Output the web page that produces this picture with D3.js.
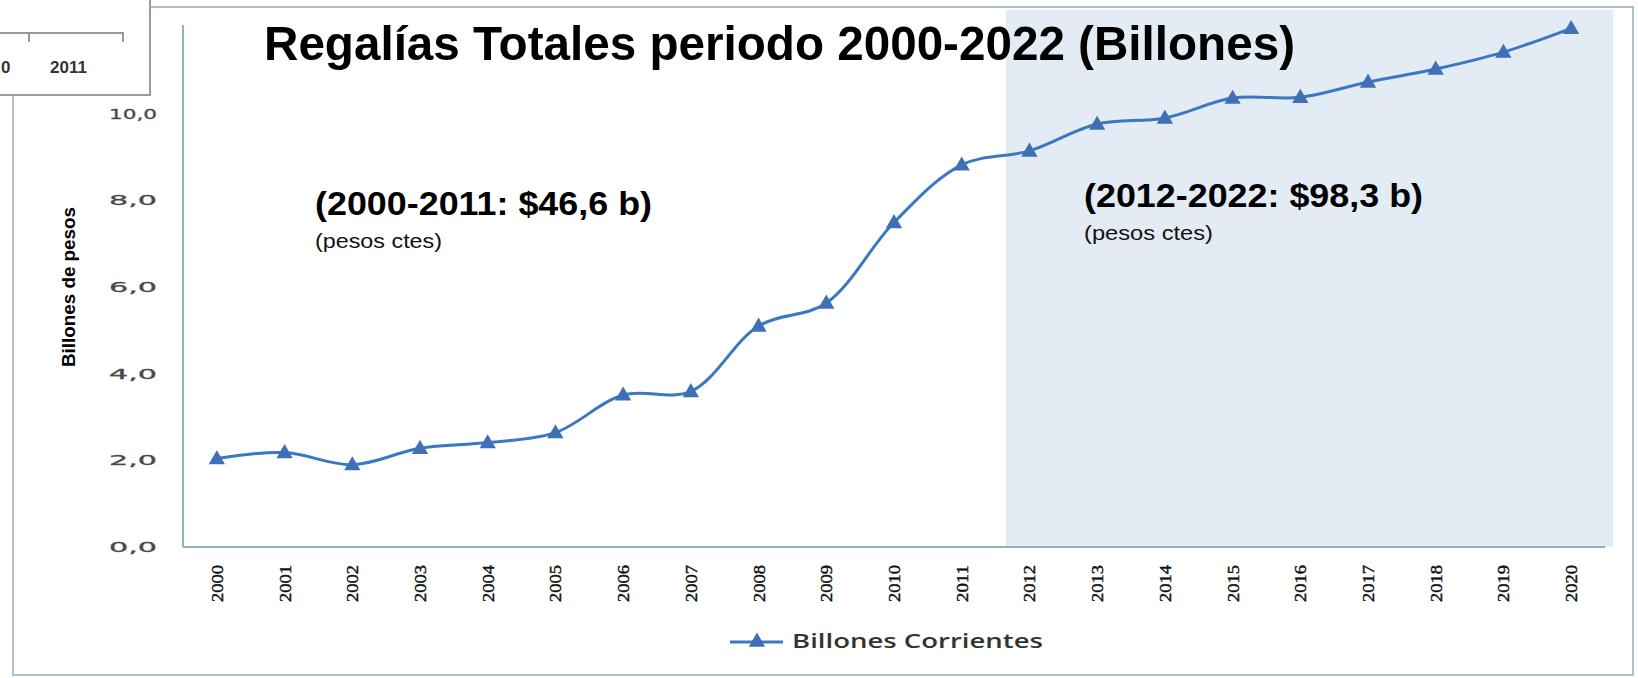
<!DOCTYPE html>
<html>
<head>
<meta charset="utf-8">
<script src="https://cdn.jsdelivr.net/npm/d3@7"></script>
<style>
  body { margin: 0; background: #fff; }
  svg { display: block; }
</style>
</head>
<body>
<script>
var svgWidth = 1638;
var svgHeight = 678;

// data
var years = ['2000','2001','2002','2003','2004','2005','2006','2007','2008','2009','2010',
             '2011','2012','2013','2014','2015','2016','2017','2018','2019','2020'];
var billones = [2.04, 2.18, 1.90, 2.28, 2.41, 2.64, 3.51, 3.59, 5.10, 5.63, 7.49,
                8.82, 9.14, 9.76, 9.90, 10.36, 10.38, 10.73, 11.03, 11.42, 11.97];
var yTicks = [0, 2, 4, 6, 8, 10];
var shadeFrom = '2012';
var titleText = 'Regalías Totales periodo 2000-2022 (Billones)';
var notes = [
  { big: '(2000-2011: $46,6 b)', small: '(pesos ctes)' },
  { big: '(2012-2022: $98,3 b)', small: '(pesos ctes)' }
];
var legendLabel = 'Billones Corrientes';

var plot = { left: 183, right: 1605, top: 27, bottom: 547 };

var svg = d3.select('body').append('svg')
  .attr('width', svgWidth)
  .attr('height', svgHeight);

// outer frame of the pasted chart
svg.append('rect')
  .attr('x', 13).attr('y', 7)
  .attr('width', 1620).attr('height', 668)
  .attr('fill', '#fff')
  .attr('stroke', '#a9c1cd')
  .attr('stroke-width', 2);

var x = d3.scaleBand().domain(years).range([plot.left, plot.right]);
var y = d3.scaleLinear().domain([0, 12]).range([plot.bottom, plot.top]);
var step = x.step();

// shaded period 2012-2022
var shadeX = x(shadeFrom) + step * 0.15;
svg.append('rect')
  .attr('x', shadeX)
  .attr('y', 10)
  .attr('width', 1613 - shadeX)
  .attr('height', plot.bottom - 10)
  .attr('fill', '#e3ebf4');

// y axis
var yAxis = d3.axisLeft(y)
  .tickValues(yTicks)
  .tickSize(0)
  .tickPadding(26)
  .tickFormat(d => d3.format('.1f')(d).replace('.', ','));

var gy = svg.append('g')
  .attr('transform', `translate(${plot.left},0)`)
  .call(yAxis);
gy.select('.domain').remove();
gy.selectAll('text')
  .attr('font-family', 'DejaVu Sans, sans-serif')
  .attr('font-size', 14)
  .attr('fill', '#4a4a4a')
  .attr('stroke', '#4a4a4a')
  .attr('stroke-width', 0.3)
  .attr('textLength', 48)
  .attr('lengthAdjust', 'spacingAndGlyphs');

// x axis
var xAxis = d3.axisBottom(x).tickSize(0).tickPadding(0);
var gx = svg.append('g')
  .attr('transform', `translate(0,${plot.bottom})`)
  .call(xAxis);
gx.select('.domain').remove();
gx.selectAll('text')
  .attr('font-family', 'Liberation Serif, serif')
  .attr('font-size', 17)
  .attr('fill', '#111')
  .attr('stroke', '#111')
  .attr('stroke-width', 0.4)
  .attr('text-anchor', 'end')
  .attr('dy', null)
  .attr('y', 0)
  .attr('transform', 'translate(6,18) rotate(-90)')
  .attr('textLength', 37)
  .attr('lengthAdjust', 'spacingAndGlyphs');

// axis lines
svg.append('line')
  .attr('x1', plot.left).attr('x2', plot.left)
  .attr('y1', 25).attr('y2', plot.bottom)
  .attr('stroke', '#8fb1c2').attr('stroke-width', 2);
svg.append('line')
  .attr('x1', plot.left).attr('x2', plot.right)
  .attr('y1', plot.bottom).attr('y2', plot.bottom)
  .attr('stroke', '#8fb1c2').attr('stroke-width', 2);

// y axis title
svg.append('text')
  .attr('transform', 'translate(75,287) rotate(-90)')
  .attr('text-anchor', 'middle')
  .attr('font-family', 'Liberation Sans, Arial, sans-serif')
  .attr('font-weight', 'bold')
  .attr('font-size', 19)
  .attr('fill', '#000')
  .attr('textLength', 160)
  .attr('lengthAdjust', 'spacingAndGlyphs')
  .text('Billones de pesos');

// line
var line = d3.line()
  .x((d, i) => x(years[i]) + step / 2)
  .y(d => y(d))
  .curve(d3.curveCatmullRom);

svg.append('path')
  .datum(billones)
  .attr('d', line)
  .attr('fill', 'none')
  .attr('stroke', '#3b78c2')
  .attr('stroke-width', 3);

var tri = d3.symbol().type(d3.symbolTriangle).size(115);
svg.selectAll('.pt')
  .data(billones)
  .enter()
  .append('path')
  .attr('class', 'pt')
  .attr('d', tri)
  .attr('transform', (d, i) => `translate(${x(years[i]) + step / 2},${y(d) + 1})`)
  .attr('fill', '#3f70b6');

// title
svg.append('text')
  .attr('x', 264).attr('y', 60)
  .attr('font-family', 'Liberation Sans, Arial, sans-serif')
  .attr('font-weight', 'bold')
  .attr('font-size', 49)
  .attr('fill', '#000')
  .attr('textLength', 1031)
  .attr('lengthAdjust', 'spacingAndGlyphs')
  .text(titleText);

// period notes
var notePos = [{ x: 315, y: 215, y2: 248, w: 337, w2: 127 },
               { x: 1084, y: 207, y2: 240, w: 339, w2: 129 }];
notes.forEach(function (n, i) {
  var p = notePos[i];
  svg.append('text')
    .attr('x', p.x).attr('y', p.y)
    .attr('font-family', 'Liberation Sans, Arial, sans-serif')
    .attr('font-weight', 'bold')
    .attr('font-size', 33)
    .attr('fill', '#000')
    .attr('textLength', p.w)
    .attr('lengthAdjust', 'spacingAndGlyphs')
    .text(n.big);
  svg.append('text')
    .attr('x', p.x).attr('y', p.y2)
    .attr('font-family', 'Liberation Sans, Arial, sans-serif')
    .attr('font-size', 21)
    .attr('fill', '#111')
    .attr('textLength', p.w2)
    .attr('lengthAdjust', 'spacingAndGlyphs')
    .text(n.small);
});

// legend
var lg = svg.append('g').attr('transform', 'translate(730,642)');
lg.append('line')
  .attr('x1', 0).attr('x2', 53)
  .attr('stroke', '#3b78c2').attr('stroke-width', 3);
lg.append('path')
  .attr('d', tri)
  .attr('transform', 'translate(27,0)')
  .attr('fill', '#3f70b6');
lg.append('text')
  .attr('x', 62).attr('y', 6)
  .attr('font-family', 'Open Sans, sans-serif')
  .attr('font-size', 19)
  .attr('font-weight', 600)
  .attr('fill', '#333')
  .attr('textLength', 251)
  .attr('lengthAdjust', 'spacingAndGlyphs')
  .text(legendLabel);

// fragment of another chart pasted on top-left corner
var inset = svg.append('g');
inset.append('rect')
  .attr('x', -2).attr('y', -2)
  .attr('width', 152).attr('height', 97)
  .attr('fill', '#fff')
  .attr('stroke', '#9a9a9a')
  .attr('stroke-width', 2);
inset.append('path')
  .attr('d', 'M0,33H123V42M29,33V42')
  .attr('fill', 'none')
  .attr('stroke', '#999')
  .attr('stroke-width', 2);
inset.append('text')
  .attr('x', 50).attr('y', 73)
  .attr('font-family', 'Liberation Sans, Arial, sans-serif')
  .attr('font-weight', 'bold')
  .attr('font-size', 17)
  .attr('fill', '#333')
  .text('2011');
inset.append('text')
  .attr('x', 1).attr('y', 73)
  .attr('font-family', 'Liberation Sans, Arial, sans-serif')
  .attr('font-weight', 'bold')
  .attr('font-size', 17)
  .attr('fill', '#333')
  .text('0');
</script>
</body>
</html>
